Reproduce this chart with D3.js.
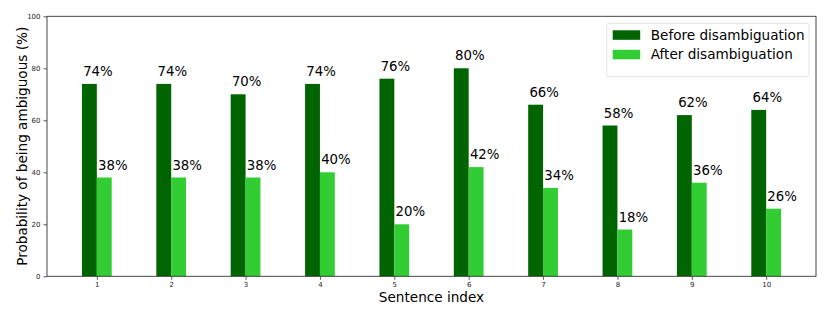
<!DOCTYPE html>
<html>
<head>
<meta charset="utf-8">
<script src="https://cdn.jsdelivr.net/npm/d3@7"></script>
<style>
  body { margin: 0; background: #fff; }
  svg { font-family: "DejaVu Sans", sans-serif; }
</style>
</head>
<body>
<div id="chart"></div>
<script>
// Data
const sentences = [1, 2, 3, 4, 5, 6, 7, 8, 9, 10];
const beforeVals = [74, 74, 70, 74, 76, 80, 66, 58, 62, 64];
const afterVals = [38, 38, 38, 40, 20, 42, 34, 18, 36, 26];
const yTicks = [0, 20, 40, 60, 80, 100];
const seriesNames = ["Before disambiguation", "After disambiguation"];
const seriesColors = ["#006400", "#32cd32"];

let svgWidth = 830;
let svgHeight = 318;
let margin = { top: 16.3, bottom: 41.7, left: 47, right: 14 };
let width = svgWidth - margin.left - margin.right;
let height = svgHeight - margin.top - margin.bottom;

let svg = d3.select("#chart")
    .append("svg")
    .attr("width", svgWidth)
    .attr("height", svgHeight);

let chartGroup = svg.append("g")
    .attr("transform", `translate(${margin.left},${margin.top})`);

// matplotlib-like x range: bars span 0.8..10.2 with 5% margins
let xScale = d3.scaleLinear()
    .domain([0.33, 10.67])
    .range([0, width]);
let yScale = d3.scaleLinear()
    .domain([0, 100])
    .range([height, 0]);

let barW = xScale(1.2) - xScale(1);

// bars + value labels
let groups = [beforeVals, afterVals];
groups.forEach((vals, si) => {
    chartGroup.selectAll(".bar" + si)
        .data(vals)
        .enter()
        .append("rect")
        .attr("x", (d, i) => xScale(sentences[i] - 0.2 + si * 0.2))
        .attr("y", d => yScale(d))
        .attr("width", barW)
        .attr("height", d => height - yScale(d))
        .attr("fill", seriesColors[si]);

    chartGroup.selectAll(".lbl" + si)
        .data(vals)
        .enter()
        .append("text")
        .attr("x", (d, i) => xScale(sentences[i] - 0.2 + si * 0.2) + 1.2)
        .attr("y", d => yScale(d + 3))
        .attr("font-size", "13.3px")
        .attr("fill", "#000")
        .text(d => d + "%");
});

// axes
let bottomAxis = d3.axisBottom(xScale).tickValues(sentences).tickSize(3.5).tickPadding(2.5);
let leftAxis = d3.axisLeft(yScale).tickValues(yTicks).tickSize(3.5).tickPadding(3);

let gx = chartGroup.append("g")
    .attr("transform", `translate(0,${height})`)
    .call(bottomAxis);
let gy = chartGroup.append("g").call(leftAxis);
[gx, gy].forEach(g => {
    g.select(".domain").remove();
    g.selectAll("text").attr("font-size", "7px").attr("fill", "#222").attr("font-family", "DejaVu Sans");
    g.selectAll("line").attr("stroke", "#333").attr("stroke-width", 0.8);
});

// frame
chartGroup.append("rect")
    .attr("x", 0).attr("y", 0)
    .attr("width", width).attr("height", height)
    .attr("fill", "none")
    .attr("stroke", "#333")
    .attr("stroke-width", 0.9);

// axis labels
chartGroup.append("text")
    .attr("transform", "rotate(-90)")
    .attr("x", -height / 2)
    .attr("y", -20.5)
    .attr("font-size", "13.6px")
    .style("text-anchor", "middle")
    .text("Probability of being ambiguous (%)");

chartGroup.append("text")
    .attr("x", width / 2)
    .attr("y", height + 25.5)
    .attr("font-size", "13.6px")
    .style("text-anchor", "middle")
    .text("Sentence index");

// legend
let legend = svg.append("g").attr("transform", "translate(606.7,23.3)");
legend.append("rect")
    .attr("width", 202.3).attr("height", 53.4)
    .attr("rx", 2)
    .attr("fill", "#fff")
    .attr("fill-opacity", 0.8)
    .attr("stroke", "#ddd")
    .attr("stroke-width", 0.8);
seriesNames.forEach((name, i) => {
    legend.append("rect")
        .attr("x", 6).attr("y", 7 + i * 19.5)
        .attr("width", 27.5).attr("height", 9.5)
        .attr("fill", seriesColors[i]);
    legend.append("text")
        .attr("x", 44).attr("y", 16.3 + i * 19.5)
        .attr("font-size", "13.6px")
        .text(name);
});
</script>
</body>
</html>
